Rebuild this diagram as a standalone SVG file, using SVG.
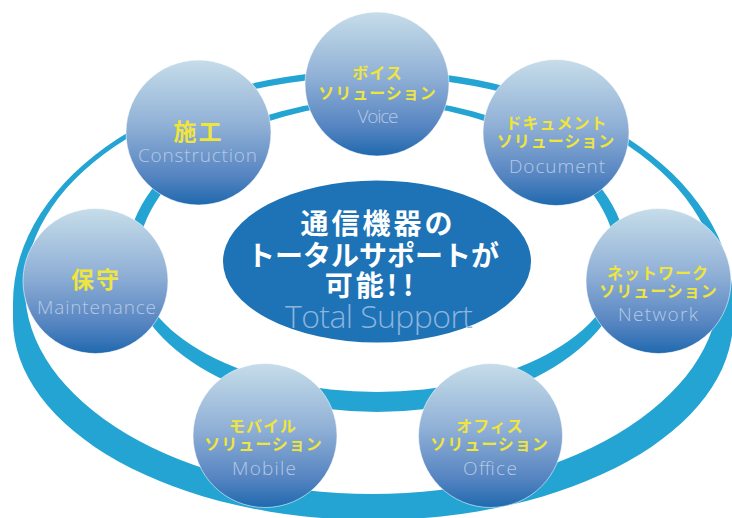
<svg xmlns="http://www.w3.org/2000/svg" width="732" height="518" viewBox="0 0 732 518">
<defs>
<linearGradient id="ball" x1="0" y1="0" x2="0" y2="1">
<stop offset="0" stop-color="#c6dde9"/>
<stop offset="0.45" stop-color="#90b0d6"/>
<stop offset="0.8" stop-color="#5584c1"/>
<stop offset="1" stop-color="#1f69ae"/>
</linearGradient>
<style>
.ring{fill:#23a4d3;fill-rule:evenodd;}
.ball{fill:url(#ball);stroke:#ffffff;stroke-opacity:0.55;stroke-width:1;}
.jp{font-family:"Noto Sans CJK JP","Noto Sans",sans-serif;font-weight:700;fill:#efe53c;text-anchor:middle;font-size:16px;letter-spacing:1px;}
.jpl{font-size:23px;letter-spacing:2px;}
.en{font-family:"Open Sans","Lato","Liberation Sans",sans-serif;font-weight:300;fill:#b6c9e5;text-anchor:middle;font-size:19px;}
.ct{font-family:"Noto Sans CJK JP","Noto Sans",sans-serif;font-weight:700;fill:#ffffff;text-anchor:middle;font-size:28px;}
.ten{font-family:"Open Sans","Lato","Liberation Sans",sans-serif;font-weight:300;fill:#8db4dd;text-anchor:middle;font-size:32px;}
</style>
</defs>
<rect width="732" height="518" fill="#ffffff"/>
<g id="connectors">
<path class="ring" d="M13,303 A360,233 0 0 1 733,303 L733,320 A360,200 0 0 1 13,320 Z M25,289 A347,212.5 0 0 1 719,289 A347,205 0 0 1 25,289 Z"/>
<path class="ring" d="M127,259 A250,160 0 0 1 627,259 A250,153 0 0 1 127,259 Z M137,264 A240,160 0 0 1 617,264 A240,128 0 0 1 137,264 Z"/>
</g>
<g id="center">
<ellipse cx="377" cy="261.5" rx="154" ry="81" fill="#1d73b5"/>
<text class="ct" x="378" y="234" letter-spacing="3">通信機器の</text>
<text class="ct" x="373" y="266">トータルサポートが</text>
<text class="ct" x="372" y="296" letter-spacing="3">可能<tspan letter-spacing="6">!!</tspan></text>
<text class="ten" x="379" y="328" textLength="188">Total Support</text>
</g>
<g id="voice">
<circle class="ball" cx="377" cy="84" r="72"/>
<text class="jp" x="377.5" y="78.5">ボイス</text>
<text class="jp" x="377.5" y="98.5">ソリューション</text>
<text class="en" x="378" y="123" textLength="41">Voice</text>
</g>
<g id="construction">
<circle class="ball" cx="198.5" cy="132.5" r="72.5"/>
<text class="jp jpl" x="198.5" y="140">施工</text>
<text class="en" x="197.5" y="162" textLength="119">Construction</text>
</g>
<g id="document">
<circle class="ball" cx="556" cy="132.5" r="73"/>
<text class="jp" x="556.5" y="128.5">ドキュメント</text>
<text class="jp" x="556" y="146.5">ソリューション</text>
<text class="en" x="557" y="173" textLength="96">Document</text>
</g>
<g id="maintenance">
<circle class="ball" cx="95.5" cy="281" r="72.5"/>
<text class="jp jpl" x="96" y="288">保守</text>
<text class="en" x="96.5" y="314" textLength="119">Maintenance</text>
</g>
<g id="network">
<circle class="ball" cx="658.5" cy="281" r="72.5"/>
<text class="jp" x="658" y="278.5">ネットワーク</text>
<text class="jp" x="658.5" y="296.5">ソリューション</text>
<text class="en" x="658" y="321" textLength="80">Network</text>
</g>
<g id="mobile">
<circle class="ball" cx="265" cy="435.5" r="72"/>
<text class="jp" x="263" y="431.5">モバイル</text>
<text class="jp" x="263.5" y="449.5">ソリューション</text>
<text class="en" x="264" y="475" textLength="64">Mobile</text>
</g>
<g id="office">
<circle class="ball" cx="490.5" cy="435.5" r="72"/>
<text class="jp" x="490" y="431.5">オフィス</text>
<text class="jp" x="489.5" y="449.5">ソリューション</text>
<text class="en" x="490" y="475" textLength="54">Office</text>
</g>
</svg>
